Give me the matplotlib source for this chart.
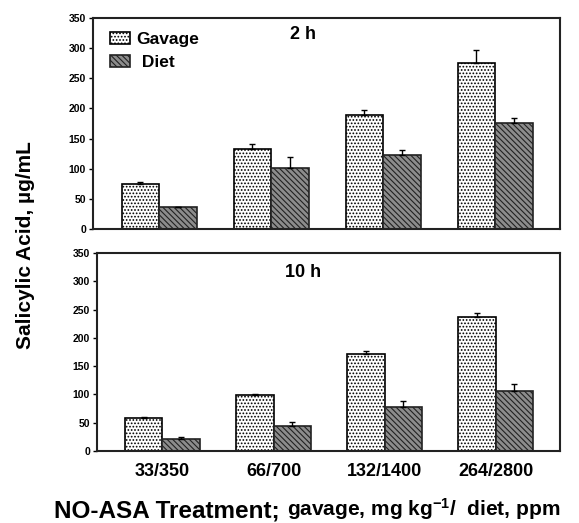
import matplotlib
matplotlib.use('Agg')
import matplotlib.pyplot as plt
import numpy as np

plt.rcParams['font.family'] = ['Liberation Sans', 'DejaVu Sans']
plt.rcParams['font.weight'] = 'bold'
plt.rcParams['mathtext.fontset'] = 'custom'
plt.rcParams['mathtext.rm'] = 'Liberation Sans:bold'
plt.rcParams['mathtext.default'] = 'rm'
plt.rcParams['hatch.linewidth'] = 0.8

doses = ['33/350', '66/700', '132/1400', '264/2800']

# 2 h
gavage_2h = [74, 133, 189, 275]
gavage_2h_err = [4, 8, 8, 22]
diet_2h = [36, 101, 123, 176]
diet_2h_err = [0, 18, 8, 8]

# 10 h
gavage_10h = [59, 99, 171, 236]
gavage_10h_err = [1, 1, 5, 8]
diet_10h = [21, 45, 77, 106]
diet_10h_err = [4, 7, 12, 12]

fig = plt.figure(figsize=(5.79, 5.23), dpi=100)
ax1 = fig.add_axes([0.1606, 0.5621, 0.8066, 0.4034])
ax2 = fig.add_axes([0.1675, 0.1377, 0.7997, 0.3786])

x = np.arange(len(doses))
w = 0.335


def draw(ax, g, ge, d, de, title, tx, ty):
    b1 = ax.bar(x - w / 2, g, w, color='white', edgecolor='black', hatch='.....',
                linewidth=1.2, yerr=[[0] * len(g), ge],
                error_kw=dict(ecolor='black', elinewidth=1, capsize=2, capthick=1),
                label='Gavage')
    b2 = ax.bar(x + w / 2, d, w, color='#8c8c8c', edgecolor='#222222', hatch='\\\\\\\\\\\\',
                linewidth=1.2, yerr=[[0] * len(d), de],
                error_kw=dict(ecolor='black', elinewidth=1, capsize=2, capthick=1),
                label=' Diet')
    ax.set_xlim(-0.59, 3.58)
    ax.set_ylim(0, 350)
    ax.set_yticks(range(0, 351, 50))
    ax.tick_params(axis='y', direction='out', length=3, width=1, labelsize=7.5, pad=2)
    ax.tick_params(axis='x', length=0)
    for s in ax.spines.values():
        s.set_linewidth(1.5)
        s.set_color('#222222')
    ax.text(tx, ty, title, transform=ax.transAxes, fontsize=13, fontweight='bold',
            ha='center', va='center')
    return b1, b2


b1, b2 = draw(ax1, gavage_2h, gavage_2h_err, diet_2h, diet_2h_err, '2 h', 0.45, 0.92)
ax1.set_xticks(x)
ax1.set_xticklabels([])
ax1.legend(handles=[b1, b2], loc='upper left', bbox_to_anchor=(0.01, 0.99),
           frameon=False, fontsize=12.5, handlelength=1.15, handleheight=0.65,
           handletextpad=0.4, labelspacing=0.45, borderaxespad=0.3)

draw(ax2, gavage_10h, gavage_10h_err, diet_10h, diet_10h_err, '10 h', 0.445, 0.9)
ax2.set_xticks(x)
ax2.set_xticklabels(doses, fontsize=13, fontweight='bold')
ax2.tick_params(axis='x', pad=9)

fig.text(0.044, 0.531, 'Salicylic Acid, \u00b5g/mL', rotation=90, fontsize=15,
         fontweight='bold', ha='center', va='center')

t1 = fig.text(0.094, 0.011, 'NO-ASA Treatment; ', fontsize=17.5, fontweight='bold',
              ha='left', va='baseline')
ax2.annotate('gavage, mg kg$^{-1}$/  diet, ppm', xy=(1, 0), xycoords=t1,
             fontsize=15, fontweight='bold', ha='left', va='bottom',
             annotation_clip=False)
plt.savefig('out.png', dpi=100)
